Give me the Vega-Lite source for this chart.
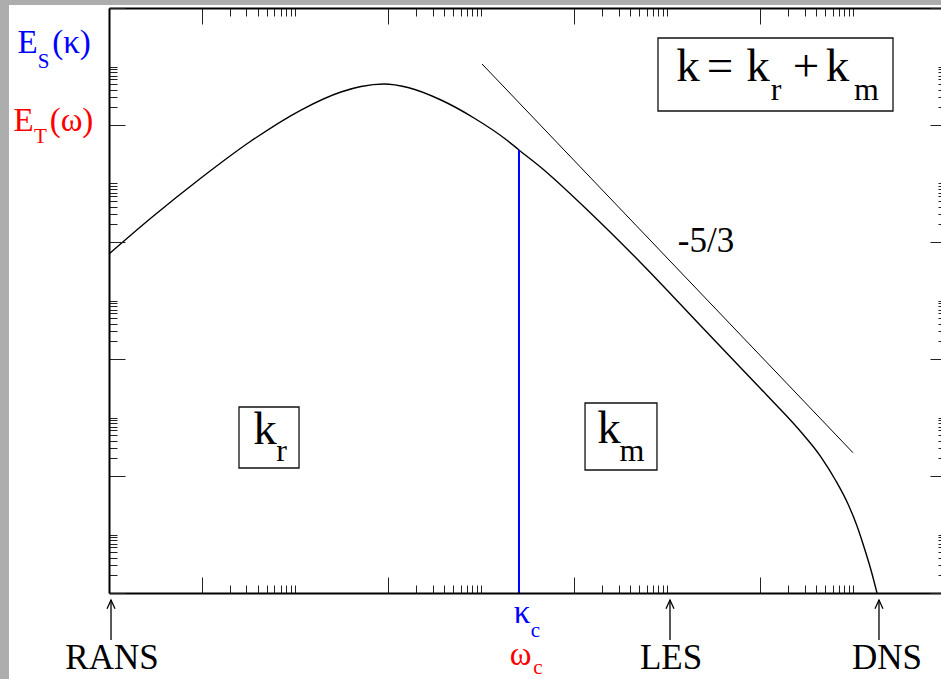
{
  "$schema": "https://vega.github.io/schema/vega-lite/v6.json",
  "width": 832,
  "height": 585,
  "autosize": {"type": "none"},
  "padding": {"left": 109, "top": 8, "right": 0, "bottom": 86},
  "background": "#adadad",
  "config": {
    "view": {"stroke": null},
    "axis": {"grid": false, "labels": false, "title": null},
    "text": {"font": "Liberation Serif", "align": "center", "baseline": "alphabetic"}
  },
  "layer": [
    {
      "description": "white sheet behind the figure",
      "data": {"values": [{}]},
      "mark": {"type": "rect", "fill": "white", "stroke": null},
      "encoding": {
        "x": {"datum": 0.0842, "type": "quantitative", "scale": {"type": "log", "domain": [1, 8.74e8], "nice": false}, "axis": null},
        "x2": {"datum": 1e10},
        "y": {"datum": 1.125, "type": "quantitative", "scale": {"type": "log", "domain": [1e-10, 1], "nice": false}, "axis": null},
        "y2": {"datum": 1e-14}
      }
    },
    {
      "description": "energy spectrum E(k)",
      "data": {"values": [
        {"k": 1, "E": 6.24e-5},
        {"k": 2.827, "E": 2.57e-4},
        {"k": 9.74, "E": 1.242e-3},
        {"k": 33.6, "E": 5.327e-3},
        {"k": 115.7, "E": 0.01804},
        {"k": 311, "E": 0.03665},
        {"k": 510.8, "E": 0.04549},
        {"k": 902, "E": 0.0502},
        {"k": 1634, "E": 0.04375},
        {"k": 3698, "E": 0.02675},
        {"k": 8370, "E": 0.01317},
        {"k": 19410, "E": 5.327e-3},
        {"k": 25470, "E": 3.74e-3},
        {"k": 43950, "E": 1.877e-3},
        {"k": 151400, "E": 3.07e-4},
        {"k": 521600, "E": 4.38e-5},
        {"k": 2.30e6, "E": 3.66e-6},
        {"k": 1.016e7, "E": 3.07e-7},
        {"k": 1.667e7, "E": 1.343e-7},
        {"k": 2.735e7, "E": 5.65e-8},
        {"k": 4.49e7, "E": 2.11e-8},
        {"k": 6.50e7, "E": 8.21e-9},
        {"k": 8.75e7, "E": 3.32e-9},
        {"k": 1.094e8, "E": 1.397e-9},
        {"k": 1.300e8, "E": 6.11e-10},
        {"k": 1.545e8, "E": 2.473e-10},
        {"k": 1.794e8, "E": 1e-10}
      ]},
      "mark": {"type": "line", "interpolate": "monotone", "color": "black", "strokeWidth": 1.4},
      "encoding": {
        "x": {
          "field": "k", "type": "quantitative",
          "scale": {"type": "log", "domain": [1, 8.74e8], "nice": false},
          "axis": {
            "orient": "bottom", "zindex": 1,
            "values": [10,20,30,40,50,60,70,80,90,100,1000,2000,3000,4000,5000,6000,7000,8000,9000,10000,100000,200000,300000,400000,500000,600000,700000,800000,900000,1000000,10000000,20000000,30000000,40000000,50000000,60000000,70000000,80000000,90000000,100000000],
            "tickSize": {"condition": {"test": "indexof([10,1000,100000,10000000], datum.value) >= 0", "value": -16}, "value": -8},
            "tickColor": "#222", "tickWidth": 1,
            "domain": true, "domainColor": "black", "domainWidth": 2,
            "labels": false, "title": null, "grid": false
          }
        },
        "y": {
          "field": "E", "type": "quantitative",
          "scale": {"type": "log", "domain": [1e-10, 1], "nice": false},
          "axis": {
            "orient": "left", "zindex": 1,
            "values": [1e-10,2e-10,3e-10,4e-10,5e-10,6e-10,7e-10,8e-10,9e-10,1e-9,1e-8,2e-8,3e-8,4e-8,5e-8,6e-8,7e-8,8e-8,9e-8,1e-7,1e-6,2e-6,3e-6,4e-6,5e-6,6e-6,7e-6,8e-6,9e-6,1e-5,0.0001,0.0002,0.0003,0.0004,0.0005,0.0006,0.0007,0.0008,0.0009,0.001,0.01,0.02,0.03,0.04,0.05,0.06,0.07,0.08,0.09,0.1,1],
            "tickSize": {"condition": {"test": "indexof([1e-10,1e-8,1e-6,0.0001,0.01,1], datum.value) >= 0", "value": -16}, "value": -8},
            "tickColor": "#222", "tickWidth": 1,
            "domain": true, "domainColor": "black", "domainWidth": 2,
            "labels": false, "title": null, "grid": false
          }
        }
      }
    },
    {
      "description": "k^(-5/3) reference slope",
      "data": {"values": [
        {"k": 10210, "E": 0.1104},
        {"k": 9.9e7, "E": 2.5e-8}
      ]},
      "mark": {"type": "line", "color": "black", "strokeWidth": 1},
      "encoding": {
        "x": {
          "field": "k", "type": "quantitative",
          "scale": {"type": "log", "domain": [1, 8.74e8], "nice": false},
          "axis": {
            "orient": "top", "zindex": 1,
            "values": [10,20,30,40,50,60,70,80,90,100,1000,2000,3000,4000,5000,6000,7000,8000,9000,10000,100000,200000,300000,400000,500000,600000,700000,800000,900000,1000000,10000000,20000000,30000000,40000000,50000000,60000000,70000000,80000000,90000000,100000000],
            "tickSize": {"condition": {"test": "indexof([10,1000,100000,10000000], datum.value) >= 0", "value": -16}, "value": -8},
            "tickColor": "#222", "tickWidth": 1,
            "domain": true, "domainColor": "black", "domainWidth": 2,
            "labels": false, "title": null, "grid": false
          }
        },
        "y": {
          "field": "E", "type": "quantitative",
          "scale": {"type": "log", "domain": [1e-10, 1], "nice": false},
          "axis": {
            "orient": "right", "offset": 5, "zindex": 1,
            "values": [1e-10,2e-10,3e-10,4e-10,5e-10,6e-10,7e-10,8e-10,9e-10,1e-9,1e-8,2e-8,3e-8,4e-8,5e-8,6e-8,7e-8,8e-8,9e-8,1e-7,1e-6,2e-6,3e-6,4e-6,5e-6,6e-6,7e-6,8e-6,9e-6,1e-5,0.0001,0.0002,0.0003,0.0004,0.0005,0.0006,0.0007,0.0008,0.0009,0.001,0.01,0.02,0.03,0.04,0.05,0.06,0.07,0.08,0.09,0.1,1],
            "tickSize": {"condition": {"test": "indexof([1e-10,1e-8,1e-6,0.0001,0.01,1], datum.value) >= 0", "value": -16}, "value": -8},
            "tickColor": "#222", "tickWidth": 1,
            "domain": false,
            "labels": false, "title": null, "grid": false
          }
        }
      }
    },
    {
      "description": "cutoff wavenumber",
      "data": {"values": [{"k": 25470, "E": 3.74e-3, "E2": 1e-10}]},
      "mark": {"type": "rule", "color": "#0000ff", "strokeWidth": 2},
      "encoding": {
        "x": {"field": "k", "type": "quantitative", "scale": {"type": "log", "domain": [1, 8.74e8], "nice": false}, "axis": null},
        "y": {"field": "E", "type": "quantitative", "scale": {"type": "log", "domain": [1e-10, 1], "nice": false}, "axis": null},
        "y2": {"field": "E2"}
      }
    },
    {
      "description": "label boxes",
      "data": {"values": [
        {"k": 7.943e5, "k2": 2.665e8, "E": 0.3071, "E2": 0.01735},
        {"k": 24.95, "k2": 110.2, "E": 1.511e-7, "E2": 1.370e-8},
        {"k": 1.306e5, "k2": 7.745e5, "E": 1.770e-7, "E2": 1.267e-8}
      ]},
      "mark": {"type": "rect", "fillOpacity": 0, "stroke": "#111", "strokeWidth": 1.3},
      "encoding": {
        "x": {"field": "k", "type": "quantitative", "scale": {"type": "log", "domain": [1, 8.74e8], "nice": false}, "axis": null},
        "x2": {"field": "k2"},
        "y": {"field": "E", "type": "quantitative", "scale": {"type": "log", "domain": [1e-10, 1], "nice": false}, "axis": null},
        "y2": {"field": "E2"}
      }
    },
    {
      "description": "arrow shafts",
      "data": {"values": [
        {"k": 1.051, "E": 7.59e-11, "E2": 1.573e-11},
        {"k": 1.069e6, "E": 7.59e-11, "E2": 1.573e-11},
        {"k": 1.884e8, "E": 7.59e-11, "E2": 1.573e-11}
      ]},
      "mark": {"type": "rule", "color": "black", "strokeWidth": 1.3},
      "encoding": {
        "x": {"field": "k", "type": "quantitative", "scale": {"type": "log", "domain": [1, 8.74e8], "nice": false}, "axis": null},
        "y": {"field": "E", "type": "quantitative", "scale": {"type": "log", "domain": [1e-10, 1], "nice": false}, "axis": null},
        "y2": {"field": "E2"}
      }
    },
    {
      "description": "arrow heads",
      "data": {"values": [
        {"k": 1.051, "E": 7.59e-11},
        {"k": 1.069e6, "E": 7.59e-11},
        {"k": 1.884e8, "E": 7.59e-11}
      ]},
      "mark": {"type": "point", "shape": "M -1 2.2 L 0 0 L 1 2.2", "size": 64, "filled": false, "stroke": "black", "strokeWidth": 1.3, "opacity": 1},
      "encoding": {
        "x": {"field": "k", "type": "quantitative", "scale": {"type": "log", "domain": [1, 8.74e8], "nice": false}, "axis": null},
        "y": {"field": "E", "type": "quantitative", "scale": {"type": "log", "domain": [1e-10, 1], "nice": false}, "axis": null}
      }
    },
    {
      "description": "blue symbols",
      "data": {"values": [
        {"k": 0.1331, "E": 0.1702, "t": "E"},
        {"k": 0.3954, "E": 0.1702, "t": "(κ)"},
        {"k": 27450, "E": 3.07e-11, "t": "κ"}
      ]},
      "mark": {"type": "text", "font": "Liberation Serif", "color": "#0000ff", "fontSize": 33},
      "encoding": {
        "x": {"field": "k", "type": "quantitative", "scale": {"type": "log", "domain": [1, 8.74e8], "nice": false}, "axis": null},
        "y": {"field": "E", "type": "quantitative", "scale": {"type": "log", "domain": [1e-10, 1], "nice": false}, "axis": null},
        "text": {"field": "t"}
      }
    },
    {
      "description": "blue subscripts",
      "data": {"values": [
        {"k": 0.1977, "E": 0.09427, "t": "S"},
        {"k": 38330, "E": 1.77e-11, "t": "c"}
      ]},
      "mark": {"type": "text", "font": "Liberation Serif", "color": "#0000ff", "fontSize": 21},
      "encoding": {
        "x": {"field": "k", "type": "quantitative", "scale": {"type": "log", "domain": [1, 8.74e8], "nice": false}, "axis": null},
        "y": {"field": "E", "type": "quantitative", "scale": {"type": "log", "domain": [1e-10, 1], "nice": false}, "axis": null},
        "text": {"field": "t"}
      }
    },
    {
      "description": "red symbols",
      "data": {"values": [
        {"k": 0.1206, "E": 0.007896, "t": "E"},
        {"k": 0.3954, "E": 0.007896, "t": "(ω)"},
        {"k": 26440, "E": 5.875e-12, "t": "ω"}
      ]},
      "mark": {"type": "text", "font": "Liberation Serif", "color": "#ff0000", "fontSize": 33},
      "encoding": {
        "x": {"field": "k", "type": "quantitative", "scale": {"type": "log", "domain": [1, 8.74e8], "nice": false}, "axis": null},
        "y": {"field": "E", "type": "quantitative", "scale": {"type": "log", "domain": [1e-10, 1], "nice": false}, "axis": null},
        "text": {"field": "t"}
      }
    },
    {
      "description": "red subscripts",
      "data": {"values": [
        {"k": 0.1836, "E": 0.004924, "t": "T"},
        {"k": 40770, "E": 4.1e-12, "t": "c"}
      ]},
      "mark": {"type": "text", "font": "Liberation Serif", "color": "#ff0000", "fontSize": 21},
      "encoding": {
        "x": {"field": "k", "type": "quantitative", "scale": {"type": "log", "domain": [1, 8.74e8], "nice": false}, "axis": null},
        "y": {"field": "E", "type": "quantitative", "scale": {"type": "log", "domain": [1e-10, 1], "nice": false}, "axis": null},
        "text": {"field": "t"}
      }
    },
    {
      "description": "wavenumber symbols",
      "data": {"values": [
        {"k": 1.669e6, "E": 0.05649, "t": "k"},
        {"k": 3.685e6, "E": 0.05649, "t": "="},
        {"k": 9.437e6, "E": 0.05649, "t": "k"},
        {"k": 3.095e7, "E": 0.05649, "t": "+"},
        {"k": 6.748e7, "E": 0.05649, "t": "k"},
        {"k": 47.48, "E": 3.524e-8, "t": "k"},
        {"k": 2.363e5, "E": 3.664e-8, "t": "k"}
      ]},
      "mark": {"type": "text", "font": "Liberation Serif", "color": "black", "fontSize": 47},
      "encoding": {
        "x": {"field": "k", "type": "quantitative", "scale": {"type": "log", "domain": [1, 8.74e8], "nice": false}, "axis": null},
        "y": {"field": "E", "type": "quantitative", "scale": {"type": "log", "domain": [1e-10, 1], "nice": false}, "axis": null},
        "text": {"field": "t"}
      }
    },
    {
      "description": "wavenumber subscripts",
      "data": {"values": [
        {"k": 1.473e7, "E": 0.02675, "t": "r"},
        {"k": 1.383e8, "E": 0.02675, "t": "m"},
        {"k": 71.42, "E": 1.804e-8, "t": "r"},
        {"k": 4.174e5, "E": 1.804e-8, "t": "m"}
      ]},
      "mark": {"type": "text", "font": "Liberation Serif", "color": "black", "fontSize": 32},
      "encoding": {
        "x": {"field": "k", "type": "quantitative", "scale": {"type": "log", "domain": [1, 8.74e8], "nice": false}, "axis": null},
        "y": {"field": "E", "type": "quantitative", "scale": {"type": "log", "domain": [1e-10, 1], "nice": false}, "axis": null},
        "text": {"field": "t"}
      }
    },
    {
      "description": "slope and model labels",
      "data": {"values": [
        {"k": 2.606e6, "E": 6.745e-5, "t": "-5/3"},
        {"k": 1.077, "E": 5.02e-12, "t": "RANS"},
        {"k": 1.096e6, "E": 5.02e-12, "t": "LES"},
        {"k": 2.297e8, "E": 5.02e-12, "t": "DNS"}
      ]},
      "mark": {"type": "text", "font": "Liberation Serif", "color": "black", "fontSize": 35},
      "encoding": {
        "x": {"field": "k", "type": "quantitative", "scale": {"type": "log", "domain": [1, 8.74e8], "nice": false}, "axis": null},
        "y": {"field": "E", "type": "quantitative", "scale": {"type": "log", "domain": [1e-10, 1], "nice": false}, "axis": null},
        "text": {"field": "t"}
      }
    }
  ],
  "resolve": {"axis": {"x": "independent", "y": "independent"}}
}
